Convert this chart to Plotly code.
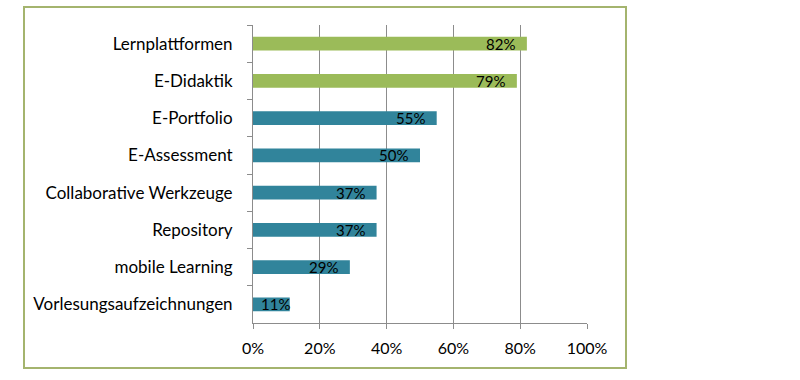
import plotly.graph_objects as go

categories = ["Lernplattformen", "E-Didaktik", "E-Portfolio", "E-Assessment",
              "Collaborative Werkzeuge", "Repository", "mobile Learning",
              "Vorlesungsaufzeichnungen"]
values = [82, 79, 55, 50, 37, 37, 29, 11]
highlighted = ["Lernplattformen", "E-Didaktik"]
x_ticks = [0, 20, 40, 60, 80, 100]
x_tick_labels = ["0%", "20%", "40%", "60%", "80%", "100%"]

GREEN = "#9BBB59"
TEAL = "#31849B"
colors = [GREEN if c in highlighted else TEAL for c in categories]

FONT = "Lato"

fig = go.Figure(go.Bar(
    x=values, y=categories, orientation="h",
    marker=dict(color=colors, line=dict(width=0)),
    hoverinfo="skip",
))

# data labels at inside end of each bar
annotations = []
for c, v in zip(categories, values):
    narrow = v < 15
    annotations.append(dict(
        x=v, y=c, xref="x", yref="y", text=f"{v}%", showarrow=False,
        xanchor="right", xshift=2 if narrow else -10, yshift=0,
        font=dict(size=15, family=FONT, color="#000000"),
    ))

L, R, T, B = 253, 213, 25, 57
W, H = 800, 380
pw, ph = W - L - R, H - T - B

def px_to_paper_x(px):
    return (px - L) / pw

def px_to_paper_y(py):
    return (H - B - py) / ph

fig.update_layout(
    width=W, height=H,
    margin=dict(l=L, r=R, t=T, b=B, autoexpand=False),
    paper_bgcolor="white", plot_bgcolor="white",
    showlegend=False,
    bargap=0.625,
    font=dict(family=FONT, size=15, color="#000000"),
    annotations=annotations,
    xaxis=dict(range=[0, 100], tickvals=x_ticks, ticktext=x_tick_labels,
               showgrid=True, gridcolor="#8C8C8C", gridwidth=1,
               zeroline=False, showline=True, linecolor="#8C8C8C", linewidth=1,
               ticks="outside", ticklen=5, tickcolor="#8C8C8C",
               ticklabelstandoff=6,
               tickfont=dict(size=16, family=FONT, color="#000000"),
               fixedrange=True),
    yaxis=dict(categoryorder="array", categoryarray=categories,
               autorange="reversed",
               showline=True, linecolor="#8C8C8C", linewidth=1,
               ticks="outside", ticklen=5, tickcolor="#8C8C8C",
               tickson="boundaries", ticklabelstandoff=16,
               tickfont=dict(size=17, family=FONT, color="#000000"),
               showgrid=False, fixedrange=True),
    shapes=[dict(type="rect", xref="paper", yref="paper",
                 x0=px_to_paper_x(24), x1=px_to_paper_x(626),
                 y0=px_to_paper_y(368), y1=px_to_paper_y(7),
                 line=dict(color="#A4B46E", width=2), layer="below")],
)

fig.write_html("out.html", config={"displayModeBar": False},
               post_script="document.body.style.margin='0px';")
